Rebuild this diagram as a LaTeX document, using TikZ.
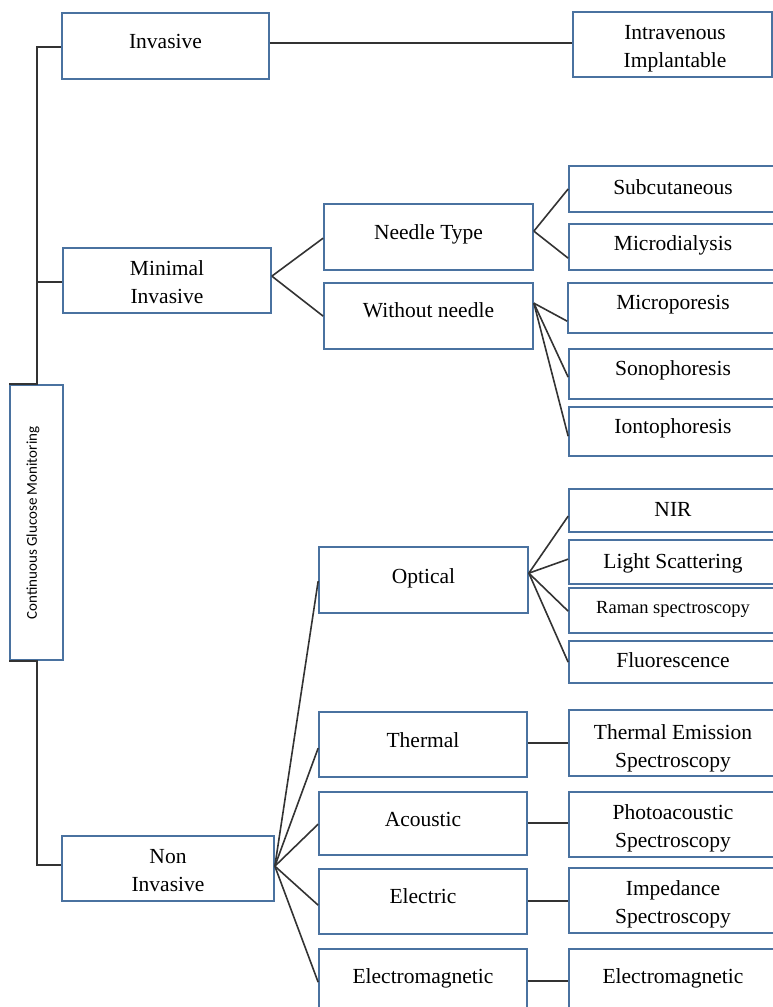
\documentclass[tikz,border=0pt]{standalone}
\usepackage{fontspec}
\setmainfont{Liberation Serif}
\newfontfamily\calfont{Carlito}
\definecolor{boxblue}{HTML}{4A72A0}
\tikzset{
  bx/.style={draw=boxblue, line width=1.7pt, rectangle, inner sep=0pt},
  conn/.style={draw=black!80, line width=1.6pt},
  lbl/.style={anchor=base, inner sep=0pt, align=center, font=\fontsize{21.5}{28}\selectfont},
  slbl/.style={anchor=base, inner sep=0pt, align=center, font=\fontsize{18.5}{24}\selectfont}
}
\newcommand\mybox[5]{\node[bx, minimum width={#4pt-#2pt}, minimum height={#5pt-#3pt}] (#1) at ({(#2+#4)/2},{(#3+#5)/2}) {};}
\begin{document}
\begin{tikzpicture}[x=1pt,y=-1pt]
\useasboundingbox (0,0) rectangle (773,1007);
\clip (0,0) rectangle (773,1007);
% boxes
\mybox{inv}{62}{13}{269}{79}
\mybox{iv}{573}{12}{772}{77}
\mybox{mi}{63}{248}{271}{313}
\mybox{nt}{324}{204}{533}{270}
\mybox{wn}{324}{283}{533}{349}
\mybox{sc}{569}{166}{777}{212}
\mybox{md}{569}{224}{777}{270}
\mybox{mp}{568}{283}{777}{333}
\mybox{so}{569}{349}{777}{399}
\mybox{io}{569}{407}{777}{456}
\mybox{cgm}{10}{385}{63}{660}
\mybox{op}{319}{547}{528}{613}
\mybox{nir}{569}{489}{777}{532}
\mybox{ls}{569}{540}{777}{584}
\mybox{ra}{569}{588}{777}{633}
\mybox{fl}{569}{641}{777}{683}
\mybox{ni}{62}{836}{274}{901}
\mybox{th}{319}{712}{527}{777}
\mybox{ac}{319}{792}{527}{855}
\mybox{el}{319}{869}{527}{934}
\mybox{em}{319}{949}{527}{1015}
\mybox{te}{569}{710}{777}{776}
\mybox{pa}{569}{792}{777}{857}
\mybox{im}{569}{868}{777}{933}
\mybox{emr}{569}{949}{777}{1015}
% labels (base = baseline of the last line)
\node[lbl] (inv-t) at (165.5,48) {Invasive};
\node[lbl] (iv-t) at (675,67) {Intravenous\\Implantable};
\node[lbl] (mi-t) at (167,303) {Minimal\\Invasive};
\node[lbl] (nt-t) at (428.5,239) {Needle Type};
\node[lbl] (wn-t) at (428.5,317) {Without needle};
\node[lbl] (sc-t) at (673,194) {Subcutaneous};
\node[lbl] (md-t) at (673,250) {Microdialysis};
\node[lbl] (mp-t) at (673,309) {Microporesis};
\node[lbl] (so-t) at (673,375) {Sonophoresis};
\node[lbl] (io-t) at (673,433) {Iontophoresis};
\node[rotate=90, inner sep=0pt, font=\calfont\fontsize{15}{18}\selectfont] (cgm-t) at (33,523) {Continuous Glucose Monitoring};
\node[lbl] (op-t) at (423.5,583) {Optical};
\node[lbl] (nir-t) at (673,516) {NIR};
\node[lbl] (ls-t) at (673,568) {Light Scattering};
\node[slbl] (ra-t) at (673,613) {Raman spectroscopy};
\node[lbl] (fl-t) at (673,667) {Fluorescence};
\node[lbl] (ni-t) at (168,891) {Non\\Invasive};
\node[lbl] (th-t) at (423,747) {Thermal};
\node[lbl] (ac-t) at (423,826) {Acoustic};
\node[lbl] (el-t) at (423,903) {Electric};
\node[lbl] (em-t) at (423,983) {Electromagnetic};
\node[lbl] (te-t) at (673,767) {Thermal Emission\\Spectroscopy};
\node[lbl] (pa-t) at (673,847) {Photoacoustic\\Spectroscopy};
\node[lbl] (im-t) at (673,923) {Impedance\\Spectroscopy};
\node[lbl] (emr-t) at (673,983) {Electromagnetic};
% spine
\coordinate (spine) at (37,0);
\coordinate (invc) at ([yshift=-35pt]inv.north west);
\coordinate (mic) at ([yshift=-35pt]mi.north west);
\coordinate (nic) at ([yshift=-30pt]ni.north west);
\draw[conn] (cgm.north west) -| (spine |- invc) -- (invc);
\draw[conn] (mic) -- (spine |- mic);
\draw[conn] (cgm.south west) -| (spine |- nic) -- (nic);
% invasive
\coordinate (invr) at ([yshift=-31pt]inv.north east);
\draw[conn] (invr) -- (invr -| iv.west);
% minimal
\coordinate (mio) at ([yshift=-29pt]mi.north east);
\draw[conn] (mio) -- ([yshift=-35pt]nt.north west);
\draw[conn] (mio) -- ([yshift=-34pt]wn.north west);
\coordinate (nto) at ([yshift=-28pt]nt.north east);
\draw[conn] (nto) -- (sc.west);
\draw[conn] (nto) -- ([yshift=-35pt]md.north west);
\coordinate (wno) at ([yshift=-21pt]wn.north east);
\draw[conn] (wno) -- ([yshift=-39pt]mp.north west);
\draw[conn] (wno) -- ([yshift=-29pt]so.north west);
\draw[conn] (wno) -- ([yshift=-30pt]io.north west);
% optical
\coordinate (opo) at ([yshift=-27pt]op.north east);
\draw[conn] (opo) -- ([yshift=-28pt]nir.north west);
\draw[conn] (opo) -- ([yshift=-20pt]ls.north west);
\draw[conn] (opo) -- ([yshift=-24pt]ra.north west);
\draw[conn] (opo) -- ([yshift=-22pt]fl.north west);
% non invasive
\coordinate (nio) at ([yshift=-31pt]ni.north east);
\draw[conn] (nio) -- ([yshift=-35pt]op.north west);
\draw[conn] (nio) -- ([yshift=-37pt]th.north west);
\draw[conn] (nio) -- ([yshift=-33pt]ac.north west);
\draw[conn] (nio) -- ([yshift=-37pt]el.north west);
\draw[conn] (nio) -- ([yshift=-34pt]em.north west);
\coordinate (tho) at ([yshift=-32pt]th.north east);
\draw[conn] (tho) -- (tho -| te.west);
\coordinate (aco) at ([yshift=-32pt]ac.north east);
\draw[conn] (aco) -- (aco -| pa.west);
\coordinate (elo) at ([yshift=-33pt]el.north east);
\draw[conn] (elo) -- (elo -| im.west);
\coordinate (emo) at ([yshift=-33pt]em.north east);
\draw[conn] (emo) -- (emo -| emr.west);
\end{tikzpicture}
\end{document}
